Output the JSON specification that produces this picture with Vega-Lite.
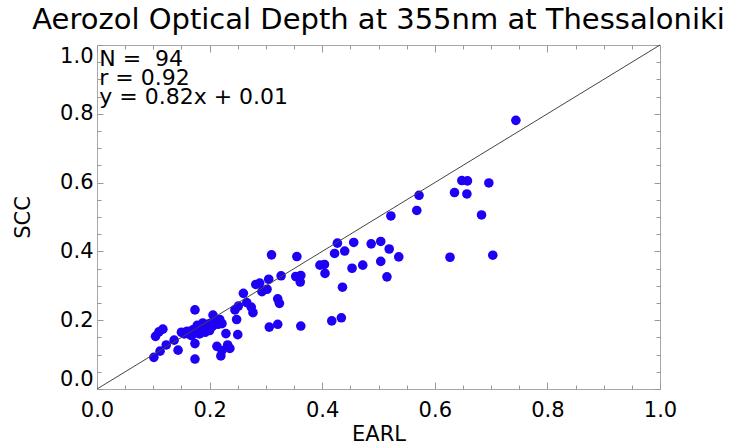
{
  "$schema": "https://vega.github.io/schema/vega-lite/v6.json",
  "width": 563,
  "height": 344,
  "autosize": {"type": "none"},
  "padding": {"left": 97, "top": 45, "right": 70, "bottom": 57},
  "background": "white",
  "config": {
    "view": {"stroke": "#a8a8a8", "strokeWidth": 1},
    "font": "DejaVu Sans"
  },
  "title": {
    "text": "Aerozol Optical Depth at 355nm at Thessaloniki",
    "font": "DejaVu Sans",
    "fontSize": 29,
    "fontWeight": "normal",
    "color": "black",
    "anchor": "middle",
    "baseline": "alphabetic",
    "frame": "group",
    "offset": -15
  },
  "datasets": {
    "pts": [
      {"EARL": 0.101, "SCC": 0.092}, {"EARL": 0.112, "SCC": 0.110}, {"EARL": 0.123, "SCC": 0.128},
      {"EARL": 0.104, "SCC": 0.153}, {"EARL": 0.110, "SCC": 0.166}, {"EARL": 0.117, "SCC": 0.174},
      {"EARL": 0.137, "SCC": 0.142}, {"EARL": 0.144, "SCC": 0.113}, {"EARL": 0.174, "SCC": 0.230},
      {"EARL": 0.174, "SCC": 0.132}, {"EARL": 0.174, "SCC": 0.087}, {"EARL": 0.206, "SCC": 0.215},
      {"EARL": 0.218, "SCC": 0.202}, {"EARL": 0.222, "SCC": 0.190}, {"EARL": 0.229, "SCC": 0.161},
      {"EARL": 0.213, "SCC": 0.124}, {"EARL": 0.222, "SCC": 0.112}, {"EARL": 0.232, "SCC": 0.128},
      {"EARL": 0.236, "SCC": 0.118}, {"EARL": 0.220, "SCC": 0.096}, {"EARL": 0.250, "SCC": 0.158},
      {"EARL": 0.248, "SCC": 0.202}, {"EARL": 0.245, "SCC": 0.230}, {"EARL": 0.251, "SCC": 0.241},
      {"EARL": 0.260, "SCC": 0.278}, {"EARL": 0.266, "SCC": 0.251}, {"EARL": 0.274, "SCC": 0.238},
      {"EARL": 0.277, "SCC": 0.222}, {"EARL": 0.282, "SCC": 0.304}, {"EARL": 0.289, "SCC": 0.308},
      {"EARL": 0.293, "SCC": 0.283}, {"EARL": 0.302, "SCC": 0.290}, {"EARL": 0.305, "SCC": 0.319},
      {"EARL": 0.310, "SCC": 0.390}, {"EARL": 0.306, "SCC": 0.180}, {"EARL": 0.321, "SCC": 0.188},
      {"EARL": 0.321, "SCC": 0.262}, {"EARL": 0.324, "SCC": 0.249}, {"EARL": 0.327, "SCC": 0.329},
      {"EARL": 0.355, "SCC": 0.385}, {"EARL": 0.353, "SCC": 0.327}, {"EARL": 0.362, "SCC": 0.330},
      {"EARL": 0.361, "SCC": 0.311}, {"EARL": 0.362, "SCC": 0.183}, {"EARL": 0.396, "SCC": 0.360},
      {"EARL": 0.404, "SCC": 0.362}, {"EARL": 0.405, "SCC": 0.336}, {"EARL": 0.417, "SCC": 0.198},
      {"EARL": 0.434, "SCC": 0.207}, {"EARL": 0.436, "SCC": 0.296}, {"EARL": 0.422, "SCC": 0.394},
      {"EARL": 0.427, "SCC": 0.424}, {"EARL": 0.440, "SCC": 0.401}, {"EARL": 0.456, "SCC": 0.426},
      {"EARL": 0.453, "SCC": 0.351}, {"EARL": 0.472, "SCC": 0.360}, {"EARL": 0.487, "SCC": 0.422},
      {"EARL": 0.504, "SCC": 0.429}, {"EARL": 0.519, "SCC": 0.407}, {"EARL": 0.536, "SCC": 0.384},
      {"EARL": 0.504, "SCC": 0.371}, {"EARL": 0.515, "SCC": 0.326}, {"EARL": 0.522, "SCC": 0.503},
      {"EARL": 0.568, "SCC": 0.519}, {"EARL": 0.572, "SCC": 0.563}, {"EARL": 0.627, "SCC": 0.383},
      {"EARL": 0.635, "SCC": 0.571}, {"EARL": 0.657, "SCC": 0.567}, {"EARL": 0.648, "SCC": 0.606},
      {"EARL": 0.658, "SCC": 0.605}, {"EARL": 0.696, "SCC": 0.599}, {"EARL": 0.683, "SCC": 0.506},
      {"EARL": 0.703, "SCC": 0.389}, {"EARL": 0.744, "SCC": 0.781},
      {"EARL": 0.150, "SCC": 0.165}, {"EARL": 0.155, "SCC": 0.160}, {"EARL": 0.160, "SCC": 0.168},
      {"EARL": 0.165, "SCC": 0.158}, {"EARL": 0.170, "SCC": 0.172}, {"EARL": 0.175, "SCC": 0.165},
      {"EARL": 0.180, "SCC": 0.178}, {"EARL": 0.185, "SCC": 0.170}, {"EARL": 0.190, "SCC": 0.182},
      {"EARL": 0.195, "SCC": 0.175}, {"EARL": 0.200, "SCC": 0.190}, {"EARL": 0.205, "SCC": 0.182},
      {"EARL": 0.210, "SCC": 0.195}, {"EARL": 0.215, "SCC": 0.188}, {"EARL": 0.182, "SCC": 0.160},
      {"EARL": 0.192, "SCC": 0.165}, {"EARL": 0.168, "SCC": 0.155}, {"EARL": 0.200, "SCC": 0.170},
      {"EARL": 0.178, "SCC": 0.185}, {"EARL": 0.188, "SCC": 0.192}
    ],
    "diag": [{"EARL": 0, "SCC": 0}, {"EARL": 1, "SCC": 1}],
    "stats": [
      {"EARL": 0.004, "SCC": 0.939, "label": "N = \u00a094"},
      {"EARL": 0.004, "SCC": 0.884, "label": "r = 0.92"},
      {"EARL": 0.004, "SCC": 0.828, "label": "y = 0.82x + 0.01"}
    ]
  },
  "layer": [
    {
      "data": {"name": "pts"},
      "mark": {"type": "circle", "size": 92, "color": "#1e00f5", "opacity": 1},
      "encoding": {
        "x": {
          "field": "EARL", "type": "quantitative",
          "scale": {"domain": [0, 1], "nice": false, "zero": false},
          "axis": {
            "orient": "bottom",
            "title": "EARL",
            "values": [0, 0.05, 0.1, 0.15, 0.2, 0.25, 0.3, 0.35, 0.4, 0.45, 0.5, 0.55, 0.6, 0.65, 0.7, 0.75, 0.8, 0.85, 0.9, 0.95, 1],
            "labelExpr": "round(datum.value*20) % 4 === 0 ? format(datum.value, '.1f') : ''",
            "labelOverlap": false,
            "labelFlush": false,
            "labelFont": "DejaVu Sans", "labelFontSize": 21, "labelColor": "black",
            "labelPadding": 17,
            "tickSize": {"condition": {"test": "round(datum.value*20) % 4 === 0", "value": -7}, "value": -4},
            "tickColor": "#999999", "tickWidth": 1,
            "domain": false, "grid": false,
            "titleFont": "DejaVu Sans", "titleFontSize": 21, "titleFontWeight": "normal", "titleColor": "black",
            "titlePadding": 0
          }
        },
        "y": {
          "field": "SCC", "type": "quantitative",
          "scale": {"domain": [0, 1], "nice": false, "zero": false},
          "axis": {
            "orient": "left",
            "title": "SCC",
            "values": [0, 0.05, 0.1, 0.15, 0.2, 0.25, 0.3, 0.35, 0.4, 0.45, 0.5, 0.55, 0.6, 0.65, 0.7, 0.75, 0.8, 0.85, 0.9, 0.95, 1],
            "labelExpr": "round(datum.value*20) % 4 === 0 ? format(datum.value, '.1f') : ''",
            "labelOverlap": false,
            "labelFlush": true,
            "labelFont": "DejaVu Sans", "labelFontSize": 21, "labelColor": "black",
            "labelPadding": 10,
            "tickSize": {"condition": {"test": "round(datum.value*20) % 4 === 0", "value": -6}, "value": -4},
            "tickColor": "#999999", "tickWidth": 1,
            "domain": false, "grid": false,
            "titleFont": "DejaVu Sans", "titleFontSize": 21, "titleFontWeight": "normal", "titleColor": "black",
            "titlePadding": 26
          }
        }
      }
    },
    {
      "data": {"name": "diag"},
      "mark": {"type": "line", "color": "#444444", "strokeWidth": 1},
      "encoding": {
        "x": {
          "field": "EARL", "type": "quantitative",
          "axis": {
            "orient": "top", "title": null, "labels": false, "domain": false, "grid": false,
            "values": [0, 0.05, 0.1, 0.15, 0.2, 0.25, 0.3, 0.35, 0.4, 0.45, 0.5, 0.55, 0.6, 0.65, 0.7, 0.75, 0.8, 0.85, 0.9, 0.95, 1],
            "tickSize": {"condition": {"test": "round(datum.value*20) % 4 === 0", "value": -7}, "value": -4},
            "tickColor": "#999999", "tickWidth": 1
          }
        },
        "y": {
          "field": "SCC", "type": "quantitative",
          "axis": {
            "orient": "right", "title": null, "labels": false, "domain": false, "grid": false,
            "values": [0, 0.05, 0.1, 0.15, 0.2, 0.25, 0.3, 0.35, 0.4, 0.45, 0.5, 0.55, 0.6, 0.65, 0.7, 0.75, 0.8, 0.85, 0.9, 0.95, 1],
            "tickSize": {"condition": {"test": "round(datum.value*20) % 4 === 0", "value": -6}, "value": -4},
            "tickColor": "#999999", "tickWidth": 1
          }
        }
      }
    },
    {
      "data": {"name": "stats"},
      "mark": {"type": "text", "align": "left", "baseline": "alphabetic", "font": "DejaVu Sans", "fontSize": 22, "color": "black"},
      "encoding": {
        "x": {"field": "EARL", "type": "quantitative", "axis": null},
        "y": {"field": "SCC", "type": "quantitative", "axis": null},
        "text": {"field": "label"}
      }
    }
  ],
  "resolve": {"axis": {"x": "independent", "y": "independent"}}
}
